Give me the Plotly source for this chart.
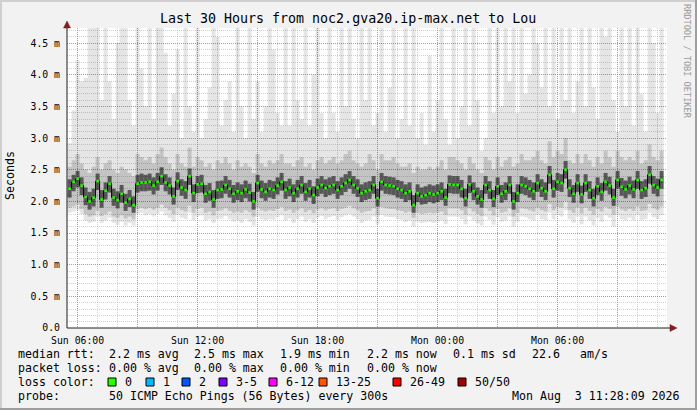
import plotly.graph_objects as go

# SmokePing view, 12 minute columns, hours counted from Sun 00:00
median = [
    2.20, 2.31, 2.36, 2.25, 2.07, 2.00, 2.06, 2.32, 2.03, 2.17,
    2.28, 2.06, 2.02, 2.12, 1.98, 2.04, 1.94, 2.28, 2.30, 2.30,
    2.31, 2.25, 2.31, 2.40, 2.30, 2.25, 2.08, 2.32, 2.22, 2.18,
    2.40, 2.13, 2.27, 2.28, 2.12, 2.15, 2.03, 2.18, 2.19, 2.26,
    2.20, 2.12, 2.16, 2.13, 2.19, 2.14, 2.00, 2.29, 2.19, 2.15,
    2.20, 2.18, 2.25, 2.31, 2.18, 2.22, 2.13, 2.20, 2.26, 2.15,
    2.20, 2.10, 2.22, 2.26, 2.21, 2.24, 2.26, 2.18, 2.24, 2.29,
    2.34, 2.26, 2.21, 2.13, 2.16, 2.18, 2.26, 2.05, 2.31, 2.26,
    2.25, 2.24, 2.20, 2.18, 2.13, 2.16, 1.94, 2.13, 2.08, 2.10,
    2.13, 2.11, 2.13, 2.16, 2.06, 2.27, 2.26, 2.26, 2.20, 2.05,
    2.27, 2.16, 2.08, 2.03, 2.26, 2.18, 2.04, 2.24, 2.12, 2.16,
    2.26, 2.00, 2.13, 2.26, 2.24, 2.20, 2.16, 2.29, 2.21, 2.16,
    2.42, 2.20, 2.31, 2.29, 2.50, 2.21, 2.12, 2.29, 2.11, 2.29,
    2.18, 2.05, 2.24, 2.15, 2.31, 2.25, 2.06, 2.34, 2.23, 2.19,
    2.25, 2.19, 2.34, 2.18, 2.21, 2.42, 2.26, 2.22, 2.34,
]
ping_max = [
    2.92, 3.44, 4.23, 3.90, 3.95, 4.80, 4.80, 4.80, 3.60, 4.80,
    3.90, 3.30, 4.50, 4.80, 4.80, 3.60, 3.20, 4.80, 4.10, 3.50,
    4.80, 3.30, 4.80, 4.80, 4.35, 3.20, 3.70, 4.40, 3.00, 4.80,
    3.50, 3.10, 4.80, 3.00, 3.30, 3.80, 4.80, 4.60, 3.20, 3.60,
    3.90, 3.10, 4.80, 3.50, 3.00, 4.80, 3.30, 3.90, 3.10, 3.50,
    4.80, 4.40, 3.40, 3.20, 4.80, 3.20, 4.80, 3.60, 3.30, 4.80,
    3.20, 4.00, 4.80, 3.40, 3.00, 4.80, 3.40, 3.10, 4.80, 3.50,
    4.80, 3.30, 3.00, 4.80, 3.60, 4.80, 3.20, 3.40, 4.80, 3.10,
    3.80, 4.80, 3.00, 3.30, 4.80, 3.20, 4.80, 3.00, 3.40, 2.90,
    4.30, 3.10, 3.60, 4.80, 3.30, 2.90, 4.80, 3.00, 3.50, 4.80,
    3.20, 4.80, 3.60, 2.80, 3.00, 4.80, 3.40, 4.80, 3.50, 4.80,
    3.90, 4.80, 3.40, 4.80, 3.70, 4.00, 4.80, 4.50, 3.80, 4.80,
    3.50, 4.80, 3.30, 4.80, 3.60, 4.80, 3.40, 3.90, 4.80, 3.50,
    4.80, 3.80, 3.30, 4.80, 4.60, 4.80, 3.60, 3.10, 4.80, 3.50,
    4.80, 3.20, 4.80, 3.70, 3.10, 4.80, 4.50, 3.40, 4.80,
]
smoke_hi = [
    2.55, 2.65, 2.75, 2.60, 2.50, 2.45, 2.55, 2.70, 2.50, 2.60,
    2.65, 2.50, 2.45, 2.55, 2.50, 2.45, 2.40, 2.75, 2.70, 2.65,
    2.70, 2.60, 2.75, 2.85, 2.70, 2.60, 2.50, 2.75, 2.60, 2.55,
    2.85, 2.55, 2.70, 2.65, 2.55, 2.60, 2.50, 2.65, 2.60, 2.70,
    2.60, 2.50, 2.65, 2.55, 2.60, 2.55, 2.45, 2.75, 2.60, 2.55,
    2.65, 2.60, 2.65, 2.75, 2.60, 2.60, 2.55, 2.65, 2.70, 2.55,
    2.60, 2.50, 2.65, 2.70, 2.60, 2.65, 2.70, 2.60, 2.65, 2.75,
    2.80, 2.65, 2.60, 2.55, 2.60, 2.75, 2.65, 2.50, 2.75, 2.65,
    2.65, 2.70, 2.60, 2.55, 2.55, 2.60, 2.45, 2.55, 2.50, 2.50,
    2.55, 2.50, 2.55, 2.65, 2.50, 2.70, 2.70, 2.65, 2.60, 2.50,
    2.70, 2.60, 2.50, 2.45, 2.70, 2.65, 2.50, 2.70, 2.55, 2.65,
    2.70, 2.55, 2.60, 2.75, 2.65, 2.65, 2.70, 2.80, 2.65, 2.60,
    2.95, 2.70, 2.80, 2.75, 3.00, 2.65, 2.60, 2.75, 2.60, 2.75,
    2.65, 2.55, 2.70, 2.60, 2.80, 2.70, 2.55, 2.80, 2.70, 2.65,
    2.70, 2.65, 2.80, 2.60, 2.65, 2.90, 2.70, 2.65, 2.80,
]
core_hi = [
    2.35, 2.42, 2.48, 2.38, 2.22, 2.15, 2.20, 2.44, 2.18, 2.30,
    2.40, 2.20, 2.16, 2.26, 2.12, 2.18, 2.08, 2.42, 2.44, 2.42,
    2.44, 2.38, 2.45, 2.54, 2.43, 2.38, 2.22, 2.46, 2.35, 2.32,
    2.52, 2.27, 2.40, 2.42, 2.26, 2.29, 2.18, 2.32, 2.33, 2.40,
    2.34, 2.26, 2.30, 2.27, 2.33, 2.28, 2.15, 2.42, 2.33, 2.29,
    2.34, 2.32, 2.38, 2.45, 2.32, 2.36, 2.27, 2.34, 2.40, 2.29,
    2.34, 2.24, 2.36, 2.40, 2.35, 2.38, 2.40, 2.32, 2.38, 2.43,
    2.48, 2.40, 2.35, 2.27, 2.30, 2.32, 2.40, 2.20, 2.45, 2.40,
    2.39, 2.38, 2.34, 2.32, 2.27, 2.30, 2.10, 2.27, 2.22, 2.24,
    2.27, 2.25, 2.27, 2.30, 2.20, 2.41, 2.40, 2.40, 2.34, 2.20,
    2.41, 2.30, 2.22, 2.18, 2.40, 2.32, 2.18, 2.38, 2.26, 2.30,
    2.40, 2.15, 2.27, 2.40, 2.38, 2.34, 2.30, 2.43, 2.35, 2.30,
    2.56, 2.34, 2.45, 2.43, 2.64, 2.35, 2.26, 2.43, 2.25, 2.43,
    2.32, 2.20, 2.38, 2.29, 2.45, 2.39, 2.20, 2.48, 2.37, 2.33,
    2.39, 2.33, 2.48, 2.32, 2.35, 2.56, 2.40, 2.36, 2.48,
]
core_lo = [
    2.06, 2.16, 2.22, 2.10, 1.94, 1.87, 1.92, 2.18, 1.90, 2.03,
    2.14, 1.93, 1.89, 1.98, 1.85, 1.91, 1.82, 2.14, 2.16, 2.16,
    2.17, 2.11, 2.17, 2.26, 2.16, 2.11, 1.95, 2.18, 2.09, 2.04,
    2.26, 1.99, 2.13, 2.14, 1.98, 2.01, 1.90, 2.04, 2.05, 2.12,
    2.06, 1.98, 2.02, 1.99, 2.05, 2.00, 1.87, 2.15, 2.05, 2.01,
    2.06, 2.04, 2.11, 2.17, 2.04, 2.08, 1.99, 2.06, 2.12, 2.01,
    2.06, 1.96, 2.08, 2.12, 2.07, 2.10, 2.12, 2.04, 2.10, 2.15,
    2.20, 2.12, 2.07, 1.99, 2.02, 2.04, 2.12, 1.92, 2.17, 2.12,
    2.11, 2.10, 2.06, 2.04, 1.99, 2.02, 1.82, 1.99, 1.95, 1.96,
    1.99, 1.97, 1.99, 2.02, 1.93, 2.13, 2.12, 2.12, 2.06, 1.92,
    2.13, 2.02, 1.95, 1.90, 2.12, 2.04, 1.91, 2.10, 1.98, 2.02,
    2.12, 1.87, 1.99, 2.12, 2.10, 2.06, 2.02, 2.15, 2.07, 2.02,
    2.28, 2.06, 2.17, 2.15, 2.36, 2.07, 1.98, 2.15, 1.97, 2.15,
    2.04, 1.92, 2.10, 2.01, 2.17, 2.11, 1.93, 2.20, 2.09, 2.05,
    2.11, 2.05, 2.20, 2.04, 2.07, 2.28, 2.12, 2.08, 2.20,
]
smoke_lo = [
    1.90, 1.92, 1.95, 1.88, 1.80, 1.76, 1.78, 1.85, 1.77, 1.80,
    1.84, 1.76, 1.74, 1.78, 1.73, 1.76, 1.72, 1.88, 1.90, 1.88,
    1.90, 1.87, 1.90, 1.95, 1.90, 1.86, 1.80, 1.90, 1.86, 1.84,
    1.93, 1.82, 1.88, 1.90, 1.82, 1.84, 1.78, 1.85, 1.86, 1.89,
    1.85, 1.82, 1.84, 1.82, 1.86, 1.83, 1.76, 1.90, 1.86, 1.84,
    1.86, 1.85, 1.88, 1.91, 1.85, 1.87, 1.82, 1.86, 1.89, 1.83,
    1.86, 1.81, 1.87, 1.89, 1.86, 1.88, 1.89, 1.85, 1.88, 1.90,
    1.93, 1.89, 1.86, 1.82, 1.84, 1.85, 1.89, 1.78, 1.91, 1.89,
    1.88, 1.88, 1.86, 1.85, 1.82, 1.84, 1.74, 1.82, 1.80, 1.81,
    1.82, 1.81, 1.82, 1.84, 1.79, 1.89, 1.89, 1.89, 1.86, 1.79,
    1.89, 1.84, 1.80, 1.77, 1.89, 1.85, 1.78, 1.88, 1.82, 1.84,
    1.89, 1.76, 1.82, 1.89, 1.88, 1.86, 1.84, 1.90, 1.86, 1.84,
    1.96, 1.86, 1.91, 1.90, 2.00, 1.86, 1.82, 1.90, 1.81, 1.90,
    1.85, 1.79, 1.88, 1.84, 1.91, 1.88, 1.79, 1.92, 1.87, 1.85,
    1.88, 1.85, 1.92, 1.85, 1.86, 1.96, 1.89, 1.87, 1.92,
]
ping_min = [
    1.82, 1.84, 1.86, 1.80, 1.70, 1.66, 1.68, 1.76, 1.66, 1.70,
    1.74, 1.66, 1.63, 1.68, 1.62, 1.66, 1.62, 1.80, 1.82, 1.78,
    1.80, 1.76, 1.80, 1.84, 1.78, 1.74, 1.68, 1.78, 1.74, 1.72,
    1.82, 1.70, 1.76, 1.78, 1.70, 1.72, 1.66, 1.72, 1.73, 1.77,
    1.72, 1.68, 1.70, 1.66, 1.72, 1.68, 1.62, 1.76, 1.72, 1.70,
    1.72, 1.71, 1.75, 1.78, 1.70, 1.73, 1.66, 1.72, 1.76, 1.68,
    1.72, 1.66, 1.74, 1.77, 1.72, 1.75, 1.77, 1.71, 1.75, 1.78,
    1.80, 1.76, 1.72, 1.66, 1.70, 1.71, 1.76, 1.64, 1.79, 1.76,
    1.75, 1.75, 1.72, 1.71, 1.67, 1.70, 1.60, 1.68, 1.66, 1.67,
    1.68, 1.66, 1.68, 1.70, 1.64, 1.76, 1.76, 1.76, 1.72, 1.64,
    1.76, 1.70, 1.65, 1.62, 1.76, 1.71, 1.63, 1.75, 1.68, 1.70,
    1.76, 1.60, 1.68, 1.76, 1.75, 1.72, 1.70, 1.78, 1.72, 1.70,
    1.82, 1.72, 1.78, 1.76, 1.86, 1.72, 1.66, 1.76, 1.64, 1.76,
    1.70, 1.62, 1.74, 1.68, 1.78, 1.74, 1.60, 1.78, 1.72, 1.70,
    1.74, 1.70, 1.78, 1.70, 1.72, 1.82, 1.75, 1.72, 1.78,
]

hours = [5.6 + 0.2 * i for i in range(len(median))]

tick_hours = [6, 9, 12, 15, 18, 21, 24, 27, 30, 33]
tick_text = ["Sun 06:00", "", "Sun 12:00", "", "Sun 18:00", "",
             "Mon 00:00", "", "Mon 06:00", ""]
y_ticks = [0, 0.5, 1.0, 1.5, 2.0, 2.5, 3.0, 3.5, 4.0, 4.5]
y_text = ["0.0", "0.5 m", "1.0 m", "1.5 m", "2.0 m", "2.5 m",
          "3.0 m", "3.5 m", "4.0 m", "4.5 m"]

stat_rows = [
    [(17, "median rtt:"), (108, "2.2 ms avg"), (193, "2.5 ms max"), (279, "1.9 ms min"),
     (366, "2.2 ms now"), (452, "0.1 ms sd"), (531, "22.6"), (579, "am/s")],
    [(17, "packet loss:"), (108, "0.00 % avg"), (193, "0.00 % max"), (279, "0.00 % min"),
     (366, "0.00 % now")],
    [(17, "loss color:")],
    [(17, "probe:"), (108, "50 ICMP Echo Pings (56 Bytes) every 300s")],
]
loss_labels = ["0", "1", "2", "3-5", "6-12", "13-25", "26-49", "50/50"]
loss_colors = ["#26ff00", "#00b8ff", "#0059ff", "#7e00ff", "#ff00ff", "#ff5500", "#ff0000", "#a10000"]
loss_box_x = [108, 146, 182, 219, 269, 319, 393, 458]

MONO = "DejaVu Sans Mono"

# pixel -> paper helpers (plot area is x 67..667, y 28..328)
def px(x):
    return (x - 67) / 600.0

def py(y):
    return (328 - y) / 300.0

fig = go.Figure()

layers = [
    (ping_min, ping_max, "rgba(0,0,0,0.10)"),
    (smoke_lo, smoke_hi, "rgba(0,0,0,0.15)"),
    (core_lo, core_hi, "rgba(0,0,0,0.55)"),
]
for lo, hi, col in layers:
    fig.add_trace(go.Bar(x=hours, y=[h - l for h, l in zip(hi, lo)], base=lo, width=0.2,
                         marker=dict(color=col, line=dict(width=0)), hoverinfo="skip"))

fig.add_trace(go.Scatter(x=hours, y=median, mode="lines",
                         line=dict(color="#000000", width=1, shape="hvh"), hoverinfo="skip"))
fig.add_trace(go.Scatter(x=hours, y=median, mode="markers",
                         marker=dict(symbol="square", size=2.6, color="#26ff00", line=dict(width=0)),
                         hoverinfo="skip"))

fig.update_layout(
    width=697, height=410, autosize=False,
    margin=dict(l=67, r=30, t=28, b=82),
    paper_bgcolor="#f2f2f2", plot_bgcolor="#ffffff",
    showlegend=False, barmode="overlay",
    font=dict(family=MONO, size=10, color="#000000"),
)
fig.update_xaxes(
    range=[5.47, 35.47], tickmode="array", tickvals=tick_hours, ticktext=tick_text,
    showgrid=True, gridcolor="rgba(222,79,79,0.55)", griddash="1px,1px", gridwidth=1,
    minor=dict(tickmode="linear", tick0=0, dtick=1, showgrid=True,
               gridcolor="rgba(143,143,143,0.4)", griddash="1px,1px", gridwidth=1),
    ticks="outside", ticklen=3, tickcolor="rgba(0,0,0,0)",
    tickfont=dict(family=MONO, size=9.8), zeroline=False, showline=False, fixedrange=True,
)
fig.update_yaxes(
    range=[0, 4.74], tickmode="array", tickvals=y_ticks, ticktext=y_text,
    showgrid=True, gridcolor="rgba(222,79,79,0.55)", griddash="1px,1px", gridwidth=1,
    minor=dict(tickmode="linear", tick0=0, dtick=0.1, showgrid=True,
               gridcolor="rgba(143,143,143,0.4)", griddash="1px,1px", gridwidth=1),
    ticks="outside", ticklen=4, tickcolor="rgba(0,0,0,0)",
    tickfont=dict(family=MONO, size=9.8), zeroline=False, showline=False, fixedrange=True,
)

shapes = []
# frame shading
shapes.append(dict(type="rect", xref="paper", yref="paper", x0=px(0), x1=px(2), y0=py(410), y1=py(0),
                   fillcolor="#cfcfcf", line_width=0))
shapes.append(dict(type="rect", xref="paper", yref="paper", x0=px(0), x1=px(697), y0=py(2), y1=py(0),
                   fillcolor="#cfcfcf", line_width=0))
shapes.append(dict(type="rect", xref="paper", yref="paper", x0=px(695), x1=px(697), y0=py(410), y1=py(0),
                   fillcolor="#9e9e9e", line_width=0))
shapes.append(dict(type="rect", xref="paper", yref="paper", x0=px(0), x1=px(697), y0=py(410), y1=py(408),
                   fillcolor="#9e9e9e", line_width=0))
# axes with arrows
shapes.append(dict(type="line", xref="paper", yref="paper", x0=0, x1=px(671), y0=0, y1=0,
                   line=dict(color="#1f1f1f", width=1)))
shapes.append(dict(type="line", xref="paper", yref="paper", x0=0, x1=0, y0=0, y1=py(25),
                   line=dict(color="#1f1f1f", width=1)))
shapes.append(dict(type="path", xref="paper", yref="paper",
                   path=f"M {px(670)},{py(324.5)} L {px(677)},{py(328)} L {px(670)},{py(331.5)} Z",
                   fillcolor="#801f1f", line=dict(color="#801f1f", width=0.5)))
shapes.append(dict(type="path", xref="paper", yref="paper",
                   path=f"M {px(63.5)},{py(28)} L {px(67)},{py(21)} L {px(70.5)},{py(28)} Z",
                   fillcolor="#801f1f", line=dict(color="#801f1f", width=0.5)))
# loss colour boxes
for bx, col in zip(loss_box_x, loss_colors):
    shapes.append(dict(type="rect", xref="paper", yref="paper", x0=px(bx), x1=px(bx + 8),
                       y0=py(386), y1=py(378), fillcolor=col, line=dict(color="#000000", width=1)))
fig.update_layout(shapes=shapes)

ann = []
ann.append(dict(text="Last 30 Hours from noc2.gva20.ip-max.net to Lou", x=px(347.5), y=py(19),
                xanchor="center", yanchor="middle", font=dict(family=MONO, size=13.3)))
ann.append(dict(text="Seconds", x=px(10), y=py(176), textangle=-90,
                xanchor="center", yanchor="middle", font=dict(family=MONO, size=11.6)))
ann.append(dict(text="RRDTOOL / TOBI OETIKER", x=px(687), y=py(61), textangle=90,
                xanchor="center", yanchor="middle", font=dict(family=MONO, size=8.6, color="#9a9a9a")))
row_y = [354, 368, 382, 396]
for ry, row in zip(row_y, stat_rows):
    for sx, txt in row:
        ann.append(dict(text=txt, x=px(sx - 1), y=py(ry), xanchor="left", yanchor="middle",
                        font=dict(family=MONO, size=11.6)))
for bx, lab in zip(loss_box_x, loss_labels):
    ann.append(dict(text=lab, x=px(bx + 15), y=py(382), xanchor="left", yanchor="middle",
                    font=dict(family=MONO, size=11.6)))
ann.append(dict(text="Mon Aug\u00a0\u00a03 11:28:09 2026", x=px(682), y=py(396),
                xanchor="right", yanchor="middle", font=dict(family=MONO, size=11.6)))
for a in ann:
    a.update(xref="paper", yref="paper", showarrow=False)
fig.update_layout(annotations=ann)

# the browser's default 8px body margin would shift the whole canvas
fig.write_html("out.html", config={"displayModeBar": False},
               post_script="document.body.style.margin='0px';")
